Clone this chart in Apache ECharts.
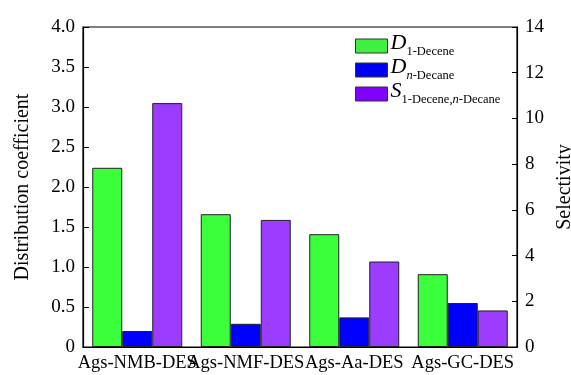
<!DOCTYPE html>
<html>
<head>
<meta charset="utf-8">
<script src="https://cdn.jsdelivr.net/npm/echarts@6/dist/echarts.min.js"></script>
<style>html,body{margin:0;padding:0;background:#fff}#c{width:571px;height:375px}</style>
</head>
<body>
<div id="c"></div>
<script>
var categories = ['Ags-NMB-DES', 'Ags-NMF-DES', 'Ags-Aa-DES', 'Ags-GC-DES'];
var dDecene = [2.24, 1.66, 1.41, 0.91];
var dDecane = [0.20, 0.29, 0.37, 0.55];
var selectivity = [10.67, 5.56, 3.74, 1.60];
var leftTicks = { min: 0, max: 4, interval: 0.5 };
var rightTicks = { min: 0, max: 14, interval: 2 };

var FONT = '"Liberation Serif", "Times New Roman", serif';
var chart = echarts.init(document.getElementById('c'));
var rich = {
  i: { fontFamily: FONT, fontStyle: 'italic', fontSize: 22, color: '#000', verticalAlign: 'bottom', lineHeight: 16 },
  s: { fontFamily: FONT, fontSize: 12.5, color: '#000', verticalAlign: 'bottom', lineHeight: 16, padding: [0, 0, -4, 0] },
  si: { fontFamily: FONT, fontStyle: 'italic', fontSize: 12.5, color: '#000', verticalAlign: 'bottom', lineHeight: 16, padding: [0, 0, -4, 0] }
};
chart.setOption({
  animation: false,
  grid: { left: 83, right: 54, top: 27, bottom: 28, show: true, borderColor: '#000', borderWidth: 1.2,
    containLabel: false, outerBoundsMode: 'none' },
  legend: {
    orient: 'vertical', left: 350, top: 27, itemWidth: 32, itemHeight: 14, itemGap: -2, icon: 'rect',
    data: [
      { name: 'D1', itemStyle: { color: '#40f040', borderColor: '#333', borderWidth: 1 } },
      { name: 'Dn', itemStyle: { color: '#0000f0', borderColor: '#333', borderWidth: 1 } },
      { name: 'S', itemStyle: { color: '#8000ff', borderColor: '#333', borderWidth: 1 } }
    ],
    formatter: function (n) {
      if (n === 'D1') return '{i|D}{s|1-Decene}';
      if (n === 'Dn') return '{i|D}{si|n}{s|-Decane}';
      return '{i|S}{s|1-Decene,}{si|n}{s|-Decane}';
    },
    textStyle: { rich: rich, padding: [0, 0, 0, -2] }
  },
  xAxis: {
    type: 'category', data: categories,
    axisLine: { lineStyle: { color: '#000', width: 1.2 } },
    axisTick: { show: false },
    axisLabel: { fontFamily: FONT, fontSize: 18.5, color: '#000', margin: 7, interval: 0 }
  },
  yAxis: [
    {
      type: 'value', min: leftTicks.min, max: leftTicks.max, interval: leftTicks.interval,
      name: 'Distribution coefficient', nameLocation: 'middle', nameRotate: 90, nameGap: 50,
      nameTextStyle: { fontFamily: FONT, fontSize: 20, color: '#000' },
      axisLine: { show: true, lineStyle: { color: '#000', width: 1.2 } },
      axisTick: { show: true, inside: true, length: 6, lineStyle: { color: '#000' } },
      splitLine: { show: false },
      axisLabel: { fontFamily: FONT, fontSize: 19, color: '#000', margin: 8,
        formatter: function (v) { return v === 0 ? '0' : v.toFixed(1); } }
    },
    {
      type: 'value', min: rightTicks.min, max: rightTicks.max, interval: rightTicks.interval,
      name: 'Selectivity', nameLocation: 'middle', nameRotate: 90, nameGap: 27,
      nameTextStyle: { fontFamily: FONT, fontSize: 20, color: '#000' },
      axisLine: { show: true, lineStyle: { color: '#000', width: 1.2 } },
      axisTick: { show: true, inside: true, length: 5, lineStyle: { color: '#000' } },
      splitLine: { show: false },
      axisLabel: { fontFamily: FONT, fontSize: 19, color: '#000', margin: 8 }
    }
  ],
  series: [
    { name: 'D1', type: 'bar', data: dDecene, barWidth: 30, barGap: '0%',
      itemStyle: { color: '#3cff3c', borderColor: '#222', borderWidth: 1 } },
    { name: 'Dn', type: 'bar', data: dDecane, barWidth: 30, barGap: '0%',
      itemStyle: { color: '#0000ff', borderColor: '#222', borderWidth: 1 } },
    { name: 'S', type: 'bar', yAxisIndex: 1, data: selectivity, barWidth: 30, barGap: '0%',
      itemStyle: { color: '#9b3cff', borderColor: '#222', borderWidth: 1 } }
  ]
});
</script>
</body>
</html>
